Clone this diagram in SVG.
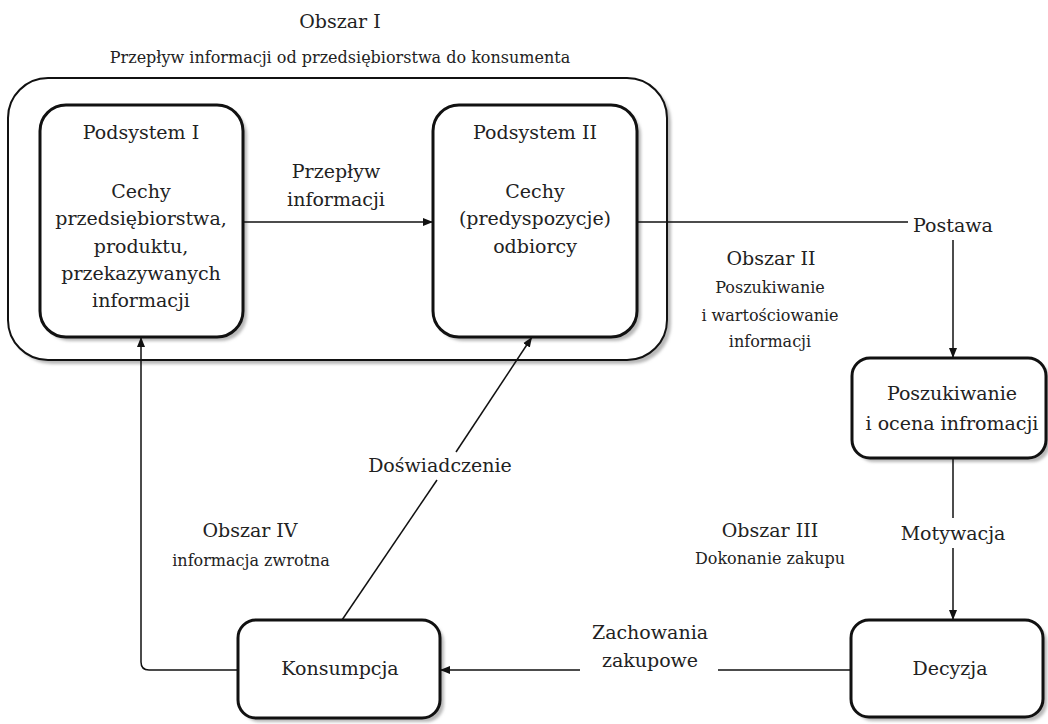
<svg xmlns="http://www.w3.org/2000/svg" width="1048" height="724" viewBox="0 0 1048 724">
  <defs>
    <style>
      .big { font-size: 19px; }
      .small { font-size: 16px; }
      .box { fill: #fff; stroke: #111; stroke-width: 3; }
      .outer { fill: #fff; stroke: #111; stroke-width: 2; }
      .shadow { fill: #b8b8b8; }
      .line { fill: none; stroke: #111; stroke-width: 1.5; }
    </style>
    <marker id="arrow" viewBox="0 0 10 10" refX="10" refY="5" markerWidth="10" markerHeight="10" markerUnits="userSpaceOnUse" orient="auto">
      <path d="M0,1 L10,5 L0,9 z" fill="#111"/>
    </marker>
    <filter id="soft" x="-10%" y="-10%" width="120%" height="120%">
      <feGaussianBlur stdDeviation="1.5"/>
    </filter>
  </defs>

  <g font-family="'DejaVu Serif', 'Liberation Serif', serif" fill="#222" text-anchor="middle">

  <!-- area I heading -->
  <text class="big" x="340" y="28">Obszar I</text>
  <text class="small" x="340" y="63">Przepływ informacji od przedsiębiorstwa do konsumenta</text>

  <!-- area I container -->
  <g id="obszar-1">
    <rect class="shadow" x="12" y="82" width="659" height="282" rx="40" filter="url(#soft)"/>
    <rect class="outer" x="8" y="78" width="659" height="282" rx="40"/>
  </g>

  <g id="podsystem-1">
    <rect class="shadow" x="44" y="109" width="203" height="232" rx="26" filter="url(#soft)"/>
    <rect class="box" x="40" y="105" width="203" height="232" rx="26"/>
    <text class="big" x="141" y="139">Podsystem I</text>
    <text class="big" x="141" y="198">Cechy</text>
    <text class="big" x="141" y="225">przedsiębiorstwa,</text>
    <text class="big" x="141" y="253">produktu,</text>
    <text class="big" x="141" y="280">przekazywanych</text>
    <text class="big" x="141" y="307">informacji</text>
  </g>

  <g id="podsystem-2">
    <rect class="shadow" x="437" y="109" width="204" height="232" rx="26" filter="url(#soft)"/>
    <rect class="box" x="433" y="105" width="204" height="232" rx="26"/>
    <text class="big" x="535" y="139">Podsystem II</text>
    <text class="big" x="535" y="198">Cechy</text>
    <text class="big" x="535" y="225">(predyspozycje)</text>
    <text class="big" x="535" y="253">odbiorcy</text>
  </g>

  <g id="poszukiwanie">
    <rect class="shadow" x="856" y="362" width="194" height="100" rx="18" filter="url(#soft)"/>
    <rect class="box" x="852" y="358" width="194" height="100" rx="18"/>
    <text class="big" x="952" y="400">Poszukiwanie</text>
    <text class="big" x="952" y="430">i ocena infromacji</text>
  </g>

  <g id="decyzja">
    <rect class="shadow" x="855" y="624" width="192" height="97" rx="18" filter="url(#soft)"/>
    <rect class="box" x="851" y="620" width="192" height="97" rx="18"/>
    <text class="big" x="950" y="675">Decyzja</text>
  </g>

  <g id="konsumpcja">
    <rect class="shadow" x="242" y="624" width="202" height="98" rx="18" filter="url(#soft)"/>
    <rect class="box" x="238" y="620" width="202" height="98" rx="18"/>
    <text class="big" x="340" y="675">Konsumpcja</text>
  </g>

  <!-- free-standing labels -->
  <g id="labels">
    <text class="big" x="953" y="232">Postawa</text>
    <text class="big" x="771" y="265">Obszar II</text>
    <text class="small" x="770" y="293">Poszukiwanie</text>
    <text class="small" x="770" y="321">i wartościowanie</text>
    <text class="small" x="770" y="347">informacji</text>
    <text class="big" x="770" y="537">Obszar III</text>
    <text class="small" x="770" y="564">Dokonanie zakupu</text>
    <text class="big" x="250" y="537">Obszar IV</text>
    <text class="small" x="251" y="566">informacja zwrotna</text>
  </g>

  <!-- connectors -->
  <g id="connectors">
    <!-- Podsystem I -> Podsystem II -->
    <line class="line" x1="243" y1="222" x2="433" y2="222" marker-end="url(#arrow)"/>
    <text class="big" x="336" y="178">Przepływ</text>
    <text class="big" x="336" y="206">informacji</text>

    <!-- Podsystem II -> Postawa -> Poszukiwanie -->
    <line class="line" x1="637" y1="222" x2="908" y2="222"/>
    <line class="line" x1="953" y1="240" x2="953" y2="358" marker-end="url(#arrow)"/>

    <!-- Poszukiwanie -> Decyzja -->
    <line class="line" x1="953" y1="458" x2="953" y2="518"/>
    <text class="big" x="953" y="540">Motywacja</text>
    <line class="line" x1="953" y1="548" x2="953" y2="620" marker-end="url(#arrow)"/>

    <!-- Decyzja -> Konsumpcja -->
    <line class="line" x1="851" y1="670" x2="718" y2="670"/>
    <text class="big" x="650" y="639">Zachowania</text>
    <text class="big" x="650" y="667">zakupowe</text>
    <line class="line" x1="580" y1="670" x2="440" y2="670" marker-end="url(#arrow)"/>

    <!-- Konsumpcja -> Podsystem I (feedback) -->
    <path class="line" d="M238,670 H149 Q141,670 141,662 V337" marker-end="url(#arrow)"/>

    <!-- Konsumpcja -> Podsystem II (experience) -->
    <line class="line" x1="342" y1="620" x2="437" y2="480"/>
    <line class="line" x1="456" y1="452" x2="532" y2="337" marker-end="url(#arrow)"/>
    <text class="big" x="440" y="472">Doświadczenie</text>
  </g>
  </g>
</svg>
